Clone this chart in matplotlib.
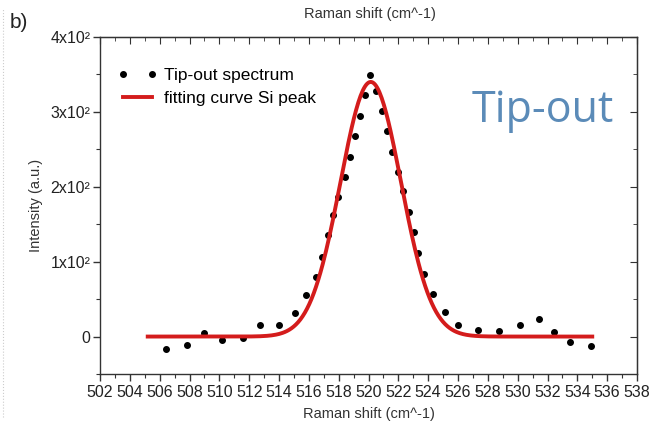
import numpy as np
import matplotlib
matplotlib.use('Agg')
import matplotlib.pyplot as plt
from matplotlib.ticker import MultipleLocator, FixedLocator
from matplotlib.lines import Line2D

plt.rcParams['font.family'] = ['Liberation Sans', 'DejaVu Sans']

shift = [506.4, 507.8, 509.0, 510.2, 511.6, 512.7, 514.0, 515.1, 515.8, 516.5,
         516.9, 517.3, 517.6, 517.95, 518.4, 518.76, 519.1, 519.4, 519.76, 520.1,
         520.5, 520.88, 521.26, 521.6, 522.0, 522.3, 522.73, 523.07, 523.3, 523.7,
         524.3, 525.1, 525.97, 527.35, 528.74, 530.15, 531.4, 532.45, 533.5, 534.9]
intensity = [-17, -11, 5, -5, -2, 16, 16, 31, 55, 79,
             106, 135, 162, 187, 213, 240, 268, 295, 322, 349,
             328, 301, 275, 247, 220, 194, 166, 139, 112, 84,
             57, 33, 15, 9, 7, 15, 24, 6, -7, -13]

# gaussian fit parameters of the Si peak
fit_center = 520.15
fit_height = 340
fit_sigma = 2.03
fit_start, fit_end = 505.2, 535.0

xticks = list(range(502, 539, 2))
yticks = [0, 100, 200, 300, 400]
ylabels = ['0', '1x10²', '2x10²', '3x10²', '4x10²']

fig = plt.figure(figsize=(6.5, 4.25), dpi=100)
ax = fig.add_axes([100/650, 1-374/425, 537/650, 337/425])

xf = np.linspace(fit_start, fit_end, 400)
yf = fit_height*np.exp(-(xf-fit_center)**2/(2*fit_sigma**2))

ax.plot(shift, intensity, 'o', color='black', markersize=4, linestyle='none',
        label='Tip-out spectrum')
ax.plot(xf, yf, color='#d41c1c', linewidth=2.8, label='fitting curve Si peak')

ax.set_xlim(502, 538)
ax.set_ylim(-50, 400)
ax.xaxis.set_major_locator(FixedLocator(xticks))
ax.xaxis.set_minor_locator(MultipleLocator(1))
ax.yaxis.set_major_locator(FixedLocator(yticks))
ax.yaxis.set_minor_locator(MultipleLocator(50))
ax.set_yticklabels(ylabels)

ax.tick_params(axis='both', which='both', colors='#333333', labelcolor='#222222',
               labelsize=11.5, direction='out', top=False, right=False)
ax.tick_params(axis='both', which='major', length=5, width=1)
ax.tick_params(axis='both', which='minor', length=3, width=0.8)
ax.tick_params(axis='x', pad=3)
ax.tick_params(axis='y', pad=2)
for sp in ax.spines.values():
    sp.set_color('#333333')
    sp.set_linewidth(1)

# mirror ticks on top and right, pointing inward
top = ax.secondary_xaxis('top')
top.xaxis.set_major_locator(FixedLocator(xticks))
top.xaxis.set_minor_locator(MultipleLocator(1))
top.tick_params(which='both', direction='in', labeltop=False, colors='#333333')
top.tick_params(which='major', length=5)
top.tick_params(which='minor', length=3)
right = ax.secondary_yaxis('right')
right.yaxis.set_major_locator(FixedLocator(yticks))
right.yaxis.set_minor_locator(MultipleLocator(50))
right.tick_params(which='both', direction='in', labelright=False, colors='#333333')
right.tick_params(which='major', length=5)
right.tick_params(which='minor', length=3)

ax.set_xlabel('Raman shift (cm^-1)', fontsize=10.5, color='#333333', labelpad=5)
ax.set_ylabel('Intensity (a.u.)', fontsize=10.5, color='#333333', labelpad=5)
fig.text(370/650, 1-14/425, 'Raman shift (cm^-1)', fontsize=10.5, color='#333333',
         ha='center', va='center')
fig.text(10/650, 1-22/425, 'b)', fontsize=15, color='#222222', va='center')

ax.text((472-100)/537, 1-(122-37)/337, 'Tip-out', transform=ax.transAxes,
        fontsize=31, color='#5b8bb8', family='Open Sans', ha='left', va='baseline')

leg = ax.legend(loc='upper left', bbox_to_anchor=(0.01, 0.945), frameon=False,
                numpoints=2, fontsize=12.5, handlelength=2.3, handletextpad=0.4,
                labelspacing=0.45, borderaxespad=0.3)

fig.add_artist(Line2D([3/650, 3/650], [0.02, 0.98], color='#cccccc',
                      linestyle=':', linewidth=0.8))

fig.savefig('out.png', dpi=100)
